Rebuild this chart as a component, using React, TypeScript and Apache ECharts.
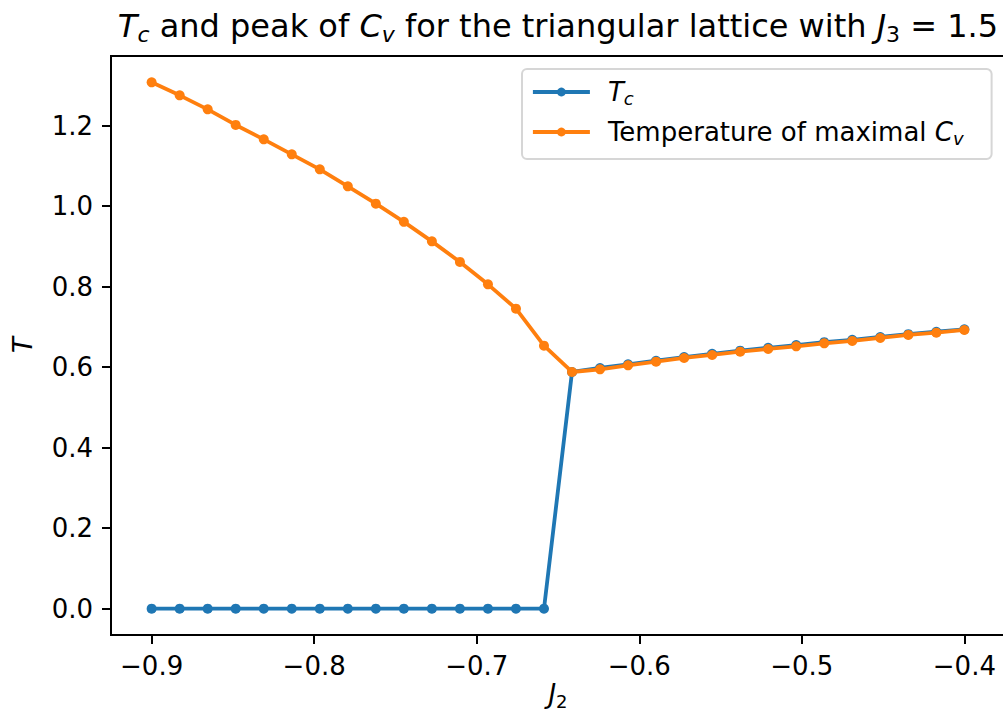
import React, { useEffect, useRef } from 'react';
import * as echarts from 'echarts';

const j2Values = [
  -0.9, -0.88276, -0.86552, -0.84828, -0.83103, -0.81379, -0.79655, -0.77931,
  -0.76207, -0.74483, -0.72759, -0.71034, -0.6931, -0.67586, -0.65862, -0.64138,
  -0.62414, -0.6069, -0.58966, -0.57241, -0.55517, -0.53793, -0.52069, -0.50345,
  -0.48621, -0.46897, -0.45172, -0.43448, -0.41724, -0.4,
];

const tcValues = [
  0, 0, 0, 0, 0, 0, 0, 0, 0, 0, 0, 0, 0, 0, 0,
  0.588, 0.598, 0.607, 0.616, 0.625, 0.633, 0.641, 0.648, 0.655, 0.662,
  0.668, 0.675, 0.682, 0.688, 0.694,
];

const cvPeakValues = [
  1.3076, 1.2753, 1.2405, 1.2017, 1.166, 1.1287, 1.0914, 1.0492, 1.0062, 0.961,
  0.9125, 0.8614, 0.8057, 0.7453, 0.6534, 0.588, 0.5946, 0.6045, 0.6137, 0.6228,
  0.6303, 0.6385, 0.6452, 0.6517, 0.6591, 0.6651, 0.6725, 0.68, 0.6857, 0.6924,
];

const xTicks = [-0.9, -0.8, -0.7, -0.6, -0.5, -0.4];
const yTicks = [0, 0.2, 0.4, 0.6, 0.8, 1.0, 1.2];

const seriesNames = ['Tc', 'Temperature of maximal Cv'];

export default function App() {
  const ref = useRef<HTMLDivElement>(null);
  useEffect(() => {
    document.body.style.overflow = 'hidden';
    const chart = echarts.init(ref.current!, null, { renderer: 'svg' });
    const font = 'DejaVu Sans';
    const fmt = (v: number) => v.toFixed(1).replace('-', '\u2212');
    const blue = '#1f77b4';
    const orange = '#ff7f0e';

    chart.setOption({
      animation: false,
      backgroundColor: '#ffffff',
      grid: {
        left: 111,
        top: 56,
        right: 5,
        bottom: 83,
        show: true,
        borderColor: '#000',
        borderWidth: 2,
        containLabel: false,
      },
      xAxis: {
        type: 'value',
        min: -0.925,
        max: -0.375,
        axisLine: { show: true, onZero: false, lineStyle: { color: '#000', width: 2 } },
        axisTick: { show: true, customValues: xTicks, length: 9, lineStyle: { color: '#000', width: 2 } },
        axisLabel: {
          customValues: xTicks,
          formatter: (v: number) => fmt(v),
          color: '#000',
          fontFamily: font,
          fontSize: 26,
          margin: 18,
        },
        splitLine: { show: false },
      },
      yAxis: {
        type: 'value',
        min: -0.0654,
        max: 1.373,
        axisLine: { show: true, onZero: false, lineStyle: { color: '#000', width: 2 } },
        axisTick: { show: true, customValues: yTicks, length: 9, lineStyle: { color: '#000', width: 2 } },
        axisLabel: {
          customValues: yTicks,
          formatter: (v: number) => fmt(v),
          color: '#000',
          fontFamily: font,
          fontSize: 26,
          margin: 18,
        },
        splitLine: { show: false },
      },
      legend: {
        show: true,
        orient: 'vertical',
        left: 522,
        top: 69,
        padding: [8, 28, 12, 9],
        itemGap: 10,
        itemWidth: 57,
        itemHeight: 11,
        borderColor: '#d6d6d6',
        borderWidth: 2,
        borderRadius: 5,
        backgroundColor: 'rgba(255,255,255,0.8)',
        lineStyle: { width: 3.8 },
        data: seriesNames,
        formatter: (name: string) =>
          name === 'Tc' ? '{i|T}{s|c}' : 'Temperature of maximal {i|C}{s|v}',
        textStyle: {
          color: '#000',
          fontFamily: font,
          fontSize: 26,
          lineHeight: 30,
          padding: [0, 0, 0, 13],
          rich: {
            i: { fontFamily: font, fontSize: 26, fontStyle: 'italic', lineHeight: 30, color: '#000' },
            s: { fontFamily: font, fontSize: 18, fontStyle: 'italic', lineHeight: 16, verticalAlign: 'bottom', color: '#000' },
          },
        },
      },
      series: [
        {
          name: seriesNames[0],
          type: 'line',
          data: j2Values.map((x, i) => [x, tcValues[i]]),
          symbol: 'circle',
          symbolSize: 10,
          showAllSymbol: true,
          lineStyle: { color: blue, width: 3.8 },
          itemStyle: { color: blue },
          z: 2,
        },
        {
          name: seriesNames[1],
          type: 'line',
          data: j2Values.map((x, i) => [x, cvPeakValues[i]]),
          symbol: 'circle',
          symbolSize: 10,
          showAllSymbol: true,
          lineStyle: { color: orange, width: 3.8 },
          itemStyle: { color: orange },
          z: 3,
        },
      ],
      graphic: [
        {
          type: 'text',
          x: 558,
          y: 26,
          style: {
            text: '{i|T}{s|c} and peak of {i|C}{s|v} for the triangular lattice with {i|J}{n|3} = 1.5',
            fontFamily: font,
            fontSize: 32,
            lineHeight: 38,
            fill: '#000',
            align: 'center',
            verticalAlign: 'middle',
            rich: {
              i: { fontFamily: font, fontSize: 32, fontStyle: 'italic', lineHeight: 38 },
              s: { fontFamily: font, fontSize: 22, fontStyle: 'italic', lineHeight: 20, verticalAlign: 'bottom' },
              n: { fontFamily: font, fontSize: 22, lineHeight: 20, verticalAlign: 'bottom' },
            },
          },
        },
        {
          type: 'text',
          x: 558,
          y: 694,
          style: {
            text: '{i|J}{n|2}',
            fontFamily: font,
            fontSize: 26,
            lineHeight: 32,
            fill: '#000',
            align: 'center',
            verticalAlign: 'middle',
            rich: {
              i: { fontFamily: font, fontSize: 26, fontStyle: 'italic', lineHeight: 32 },
              n: { fontFamily: font, fontSize: 18, lineHeight: 18, verticalAlign: 'bottom' },
            },
          },
        },
        {
          type: 'text',
          x: 23,
          y: 345,
          rotation: Math.PI / 2,
          style: {
            text: 'T',
            fontFamily: font,
            fontSize: 26,
            fontStyle: 'italic',
            fill: '#000',
            align: 'center',
            verticalAlign: 'middle',
          },
        },
      ],
    });
    return () => chart.dispose();
  }, []);
  return (
    <div
      ref={ref}
      style={{ position: 'fixed', left: 0, top: 0, width: 1010, height: 718, background: '#fff' }}
    />
  );
}
